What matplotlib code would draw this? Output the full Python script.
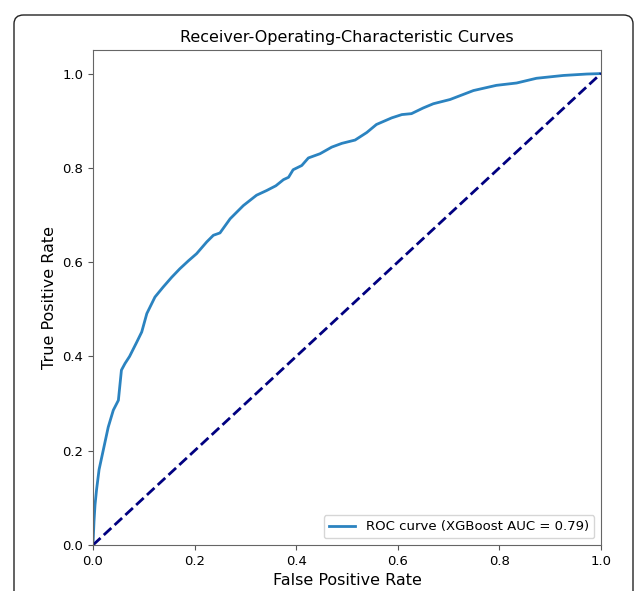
import matplotlib
matplotlib.use("Agg")
import matplotlib.pyplot as plt
from matplotlib.patches import FancyBboxPatch

# ROC curve points (false positive rate, true positive rate)
fpr = [0.0, 0.002, 0.004, 0.007, 0.012, 0.02, 0.03, 0.04, 0.05, 0.056, 0.063,
       0.072, 0.086, 0.096, 0.106, 0.122, 0.138, 0.155, 0.171, 0.188, 0.204,
       0.224, 0.237, 0.25, 0.27, 0.296, 0.322, 0.342, 0.36, 0.375, 0.385,
       0.394, 0.411, 0.424, 0.447, 0.47, 0.49, 0.516, 0.539, 0.558, 0.588,
       0.608, 0.627, 0.65, 0.67, 0.703, 0.749, 0.794, 0.834, 0.873, 0.926,
       0.972, 1.0]
tpr = [0.0, 0.05, 0.085, 0.117, 0.16, 0.20, 0.25, 0.286, 0.307, 0.371, 0.385,
       0.40, 0.43, 0.452, 0.491, 0.526, 0.547, 0.568, 0.586, 0.603, 0.618,
       0.643, 0.657, 0.662, 0.692, 0.72, 0.742, 0.752, 0.762, 0.775, 0.78,
       0.796, 0.805, 0.821, 0.83, 0.844, 0.852, 0.859, 0.875, 0.892, 0.906,
       0.913, 0.915, 0.927, 0.936, 0.945, 0.964, 0.975, 0.98, 0.99, 0.996,
       0.999, 1.0]
roc_auc = 0.79
chance = [0.0, 1.0]

fig = plt.figure(figsize=(6.36, 5.91), dpi=100)
ax = fig.add_axes([0.1462, 0.0778, 0.7987, 0.8376])

ax.plot(fpr, tpr, color="#2b83c0", lw=2,
        label="ROC curve (XGBoost AUC = %0.2f)" % roc_auc)
ax.plot(chance, chance, color="navy", lw=2, linestyle="--")

ax.set_xlim([0.0, 1.0])
ax.set_ylim([0.0, 1.05])
ax.set_xlabel("False Positive Rate", fontsize=11.5)
ax.set_ylabel("True Positive Rate", fontsize=11.5)
ax.set_title("Receiver-Operating-Characteristic Curves", fontsize=11.5)
ax.tick_params(labelsize=9.5, color="#555555")
for s in ax.spines.values():
    s.set_color("#666666")
ax.legend(loc="lower right", fontsize=9.5)

# rounded border around the whole figure
frame = FancyBboxPatch((14 / 636, -0.05), 619 / 636, 1 - 15 / 591 + 0.05,
                       boxstyle="round,pad=0,rounding_size=0.015",
                       transform=fig.transFigure, fill=False,
                       edgecolor="#222222", lw=1.0, clip_on=False)
fig.patches.append(frame)

fig.savefig("out.png", dpi=100)
